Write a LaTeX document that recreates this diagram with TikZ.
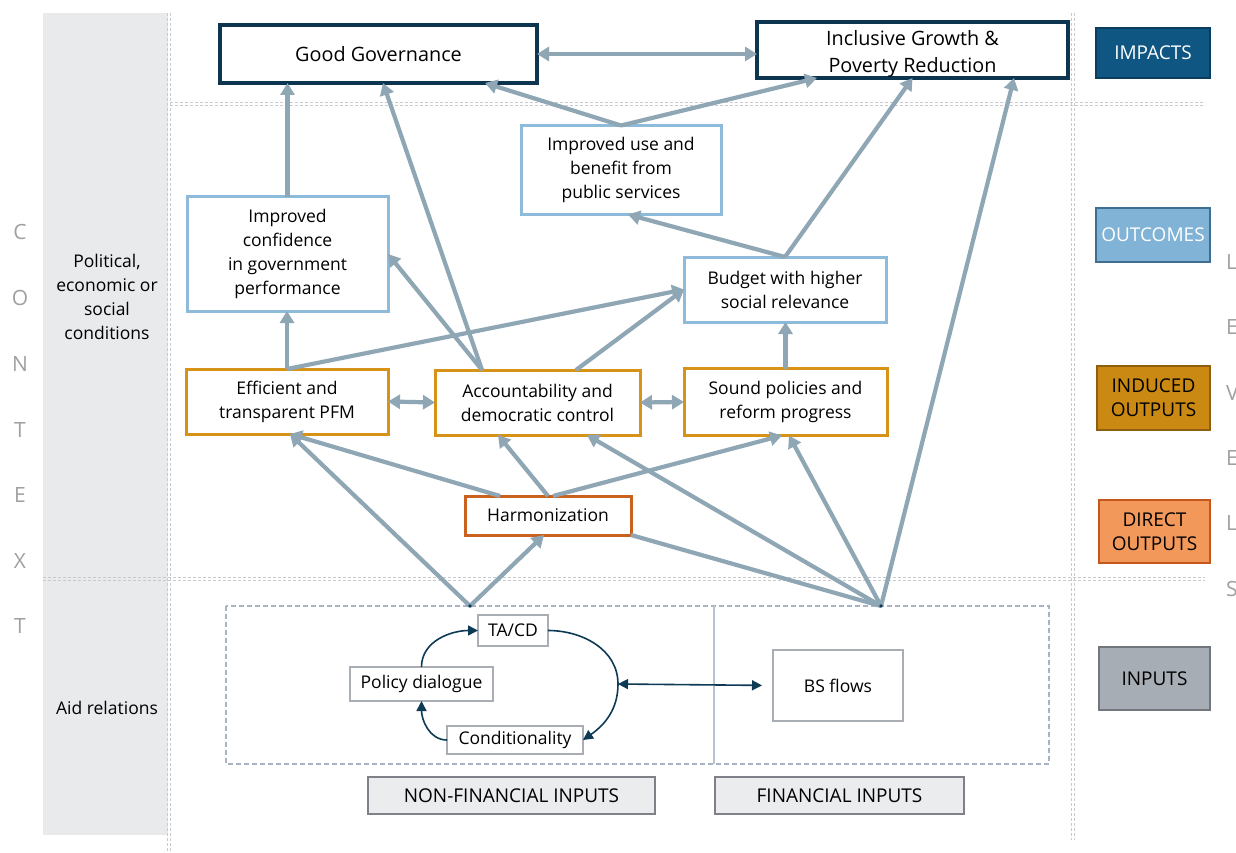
\documentclass[tikz,border=0pt]{standalone}
\usepackage{fontspec}
\setmainfont{Open Sans}
\usetikzlibrary{arrows.meta,calc}
\definecolor{navy}{HTML}{0E3550}
\definecolor{navytwo}{HTML}{0E3A56}
\definecolor{lblue}{HTML}{8DBBD9}
\definecolor{gold}{HTML}{D69317}
\definecolor{horange}{HTML}{C9621F}
\definecolor{steel}{HTML}{8FA6B5}
\definecolor{sgray}{HTML}{A9ADB4}
\definecolor{ifill}{HTML}{EBECEE}
\definecolor{iborder}{HTML}{808088}
\definecolor{strip}{HTML}{E9EAEC}
\definecolor{ctxt}{HTML}{A0A0A0}
\definecolor{dline}{HTML}{C8CACE}
\definecolor{frame}{HTML}{A8B4C4}
\definecolor{impfill}{HTML}{0F5782}
\definecolor{impdraw}{HTML}{0A3D5E}
\definecolor{outfill}{HTML}{80B3D6}
\definecolor{outdraw}{HTML}{3F6E93}
\definecolor{indfill}{HTML}{C98912}
\definecolor{inddraw}{HTML}{8F5F0F}
\definecolor{dirfill}{HTML}{F2985B}
\definecolor{dirdraw}{HTML}{C4571C}
\definecolor{inpfill}{HTML}{A7ADB4}
\definecolor{inpdraw}{HTML}{72777E}
\tikzset{
  box/.style={draw, line width=3pt, fill=white, align=center, inner sep=2pt, outer sep=0pt,
    font=\fontsize{17.5}{24}\selectfont},
  impbox/.style={box, draw=navy, line width=3.5pt, font=\fontsize{19.8}{27}\selectfont},
  outbox/.style={box, draw=lblue},
  indbox/.style={box, draw=gold},
  dirbox/.style={box, draw=horange},
  smallbox/.style={draw=sgray, line width=2pt, fill=white, inner sep=0pt, outer sep=0pt,
    font=\fontsize{17.5}{22}\selectfont},
  inbox/.style={draw=iborder, fill=ifill, line width=2pt, inner sep=0pt, outer sep=0pt,
    font=\fontsize{19}{22}\selectfont},
  lvlbox/.style={draw, line width=2pt, align=center, inner sep=0pt, outer sep=0pt,
    font=\fontsize{19}{24}\selectfont},
  flow/.style={draw=steel, line width=4.2pt, -{Triangle[width=14pt,length=12pt]}},
  flowtwo/.style={draw=steel, line width=4.2pt, {Triangle[width=14pt,length=12pt]}-{Triangle[width=14pt,length=12pt]}},
  plainflow/.style={draw=steel, line width=4.2pt},
  cyc/.style={draw=navytwo, line width=1.6pt, -{Triangle[width=10pt,length=10pt]}},
  cyctwo/.style={draw=navytwo, line width=1.6pt, {Triangle[width=10pt,length=10pt]}-{Triangle[width=10pt,length=10pt]}},
  ctxletter/.style={text=ctxt, font=\fontsize{21}{21}\selectfont, inner sep=0pt},
  dotline/.style={draw=dline, line width=0.8pt, dash pattern=on 3pt off 2pt},
}
\begin{document}
\begin{tikzpicture}[x=1pt,y=-1pt]
\useasboundingbox (0,0) rectangle (1236,853);
\fill[white] (0,0) rectangle (1236,853);
% context strip
\fill[strip] (43,13) rectangle (168,835);
% guide lines
\foreach \xx in {167,170} \draw[dotline] (\xx,13) -- (\xx,853);
\foreach \xx in {1071,1074} \draw[dotline] (\xx,13) -- (\xx,840);
\foreach \yy in {102,105} \draw[dotline] (170,\yy) -- (1205,\yy);
\foreach \yy in {577,580} \draw[dotline] (43,\yy) -- (1205,\yy);
% strip texts
\node[align=center, font=\fontsize{17.5}{24}\selectfont, inner sep=0pt] (pol) at (107,297) {Political,\\economic or\\social\\conditions};
\node[font=\fontsize{17.5}{24}\selectfont, inner sep=0pt] (aid) at (107,708) {Aid relations};
% CONTEXT letters
\node[ctxletter] (c1) at (20,232) {C};
\node[ctxletter] (c2) at (20,298) {O};
\node[ctxletter] (c3) at (20,364) {N};
\node[ctxletter] (c4) at (20,430) {T};
\node[ctxletter] (c5) at (20,495) {E};
\node[ctxletter] (c6) at (20,561) {X};
\node[ctxletter] (c7) at (20,626) {T};
% LEVELS letters
\node[ctxletter, anchor=west] (l1) at (1226,262) {L};
\node[ctxletter, anchor=west] (l2) at (1226,327) {E};
\node[ctxletter, anchor=west] (l3) at (1226,393) {V};
\node[ctxletter, anchor=west] (l4) at (1226,458) {E};
\node[ctxletter, anchor=west] (l5) at (1226,523) {L};
\node[ctxletter, anchor=west] (l6) at (1226,589) {S};
% level labels
\node[lvlbox, draw=impdraw, fill=impfill, text=white, minimum width=114pt, minimum height=50pt] (limp) at (1153,53) {IMPACTS};
\node[lvlbox, draw=outdraw, fill=outfill, text=white, minimum width=114pt, minimum height=54pt] (lout) at (1153,235) {OUTCOMES};
\node[lvlbox, draw=inddraw, fill=indfill, minimum width=113pt, minimum height=64pt] (lind) at (1153.5,398) {INDUCED\\OUTPUTS};
\node[lvlbox, draw=dirdraw, fill=dirfill, minimum width=111pt, minimum height=63pt] (ldir) at (1154.5,531.5) {DIRECT\\OUTPUTS};
\node[lvlbox, draw=inpdraw, fill=inpfill, minimum width=111pt, minimum height=63pt] (linp) at (1154.5,678.5) {INPUTS};
% main boxes
\node[impbox, minimum width=317pt, minimum height=58pt] (gg) at (378.5,54) {Good Governance};
\node[impbox, minimum width=311pt, minimum height=56pt] (ig) at (912.5,50) {};
\node[align=center, font=\fontsize{19.8}{27}\selectfont, inner sep=0pt] (igt) at (912.5,53.5) {Inclusive Growth \&\\Poverty Reduction};
\node[outbox, minimum width=200pt, minimum height=89pt] (iu) at (621,170) {Improved use and\\benefit from\\public services};
\node[outbox, minimum width=201pt, minimum height=114pt] (ic) at (287.5,254) {Improved\\confidence\\in government\\performance};
\node[outbox, minimum width=202pt, minimum height=65pt] (bud) at (785,289.5) {Budget with higher\\social relevance};
\node[indbox, minimum width=202pt, minimum height=65pt] (pfm) at (287,401.5) {Efficient and\\transparent PFM};
\node[indbox, minimum width=205pt, minimum height=65pt] (acc) at (537.5,402.5) {Accountability and\\democratic control};
\node[indbox, minimum width=203pt, minimum height=67pt] (snd) at (785.5,402) {Sound policies and\\reform progress};
\node[dirbox, minimum width=166pt, minimum height=39pt] (harm) at (548,515.5) {Harmonization};
% inputs frame
\draw[frame, line width=1.5pt, dash pattern=on 5pt off 3pt] (226,606) rectangle (1049,764);
\draw[frame!80, line width=1.2pt] (714,606) -- (714,764);
\node[smallbox, minimum width=70pt, minimum height=31pt] (tacd) at (513,630.5) {TA/CD};
\node[smallbox, minimum width=143pt, minimum height=34pt] (pd) at (421.5,684) {Policy dialogue};
\node[smallbox, minimum width=136pt, minimum height=28pt] (cond) at (515,740) {Conditionality};
\node[smallbox, minimum width=130pt, minimum height=71pt] (bs) at (838,685.5) {BS flows};
\node[inbox, minimum width=287pt, minimum height=37pt] (nfi) at (511.5,795.5) {NON-FINANCIAL INPUTS};
\node[inbox, minimum width=249pt, minimum height=37pt] (fi) at (839.5,795.5) {FINANCIAL INPUTS};
\coordinate (np) at (470,606);
\coordinate (fp) at (881,606);
\coordinate (arc) at (618,684);
% cycle arrows
\draw[cyc] (pd.north) to[out=90,in=180] (tacd.west);
\draw[cyc] (tacd.east) to[out=0,in=90] (arc) to[out=-90,in=35] (cond.east);
\draw[cyc] (cond.west) to[out=180,in=-90] (pd.south);
\draw[cyctwo, shorten >=11pt] (arc) -- (bs.west);
% steel flows
\draw[flow] (ic.north) -- (ic.north |- gg.south);
\draw[flow] (pfm.north) -- (pfm.north |- ic.south);
\draw[flow] (pfm.north) -- (bud.west);
\draw[flow] ([xshift=-55.5pt]acc.north) -- ([xshift=4.5pt]gg.south);
\draw[flow] ([xshift=-55.5pt]acc.north) -- (ic.east);
\draw[flow] ([xshift=38.5pt]acc.north) -- (bud.west);
\draw[flow] (snd.north) -- (snd.north |- bud.south);
\draw[flow] (bud.north) -- ([xshift=7pt]iu.south);
\draw[flow] (bud.north) -- (ig.south);
\draw[flow] (iu.north) -- ([xshift=106.5pt]gg.south);
\draw[flow] (iu.north) -- ([xshift=-95.5pt]ig.south);
\draw[flow] (fp) -- ([xshift=101.5pt]ig.south);
\draw[flow] ([xshift=-48pt]harm.north) -- ([xshift=3pt]pfm.south);
\draw[flow] (harm.north) -- ([xshift=-39.5pt]acc.south);
\draw[flow] ([xshift=5pt]harm.north) -- ([xshift=-3.5pt]snd.south);
\draw[plainflow] (harm.south east) -- (fp);
\draw[flow] (np) -- ([xshift=3pt]pfm.south);
\draw[flow] (np) -- ([xshift=-4pt]harm.south);
\draw[flow] (fp) -- ([xshift=49.5pt]acc.south);
\draw[flow] (fp) -- ([xshift=3.5pt]snd.south);
\draw[flowtwo] (pfm.east) -- (acc.west);
\draw[flowtwo] (acc.east) -- (snd.west);
\draw[flowtwo] (gg.east) -- (gg.east -| ig.west);
\fill[navytwo] (np) circle (1.8pt);
\fill[navytwo] (fp) circle (1.8pt);
\end{tikzpicture}
\end{document}
